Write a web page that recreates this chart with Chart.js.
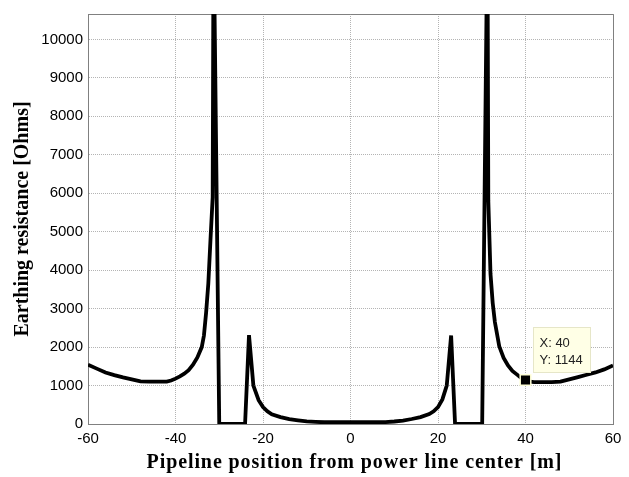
<!DOCTYPE html>
<html>
<head>
<meta charset="utf-8">
<script src="https://cdn.jsdelivr.net/npm/chart.js@4.4.1/dist/chart.umd.min.js"></script>
<style>
  body { margin: 0; background: #fff; }
  #wrap { width: 629px; height: 477px; position: relative; }
</style>
</head>
<body>
<div id="wrap"><canvas id="resChart"></canvas></div>
<script>
// pipeline position [m] and earthing resistance [Ohms]
const positionM = [
  -60, -58, -56, -54, -52, -50, -48, -46, -44, -42, -41, -40, -39, -38, -37, -36, -35, -34,
  -33.5, -33, -32.5, -32, -31.5, -31.3, -30, -24.1, -23.2, -22.2, -21, -20, -19, -18, -16,
  -14, -12, -10, -8, -6, -4, -2, 0, 2, 4, 6, 8, 10, 12, 14, 16, 18, 19, 20, 21, 22, 23,
  23.9, 30.1, 31.3, 31.5, 32, 32.5, 33, 34, 35, 36, 37, 38, 39, 40, 41, 42, 44, 46, 48,
  50, 52, 54, 56, 58, 60
];
const resistanceOhm = [
  1540, 1440, 1340, 1270, 1210, 1160, 1110, 1100, 1100, 1100, 1130, 1180, 1240, 1310, 1400, 1540, 1730, 2000,
  2300, 2900, 3650, 4800, 5900, 13000, 0, 0, 2310, 1000, 620, 440, 330, 250, 180,
  125, 95, 70, 55, 45, 45, 45, 45, 45, 45, 45, 50, 65, 90, 130, 180, 260, 330, 440, 640, 1000, 2300,
  0, 0, 13000, 5800, 3900, 3150, 2650, 2020, 1720, 1520, 1380, 1290, 1200, 1144, 1100, 1090, 1090, 1090, 1100,
  1160, 1220, 1280, 1340, 1420, 1520
];

// data tip
const tipX = [40];
const tipY = [1144];

const xTicks = [-60, -40, -20, 0, 20, 40, 60];
const yTicks = [0, 1000, 2000, 3000, 4000, 5000, 6000, 7000, 8000, 9000, 10000];

const xTitle = 'Pipeline position from power line center [m]';
const yTitle = 'Earthing resistance [Ohms]';

const lineData = positionM.map((x, i) => ({ x: x, y: resistanceOhm[i] }));
const tipData = tipX.map((x, i) => ({ x: x, y: tipY[i] }));

const tickFont = { family: '"Liberation Sans", Arial, sans-serif', size: 15 };
const titleFont = { family: '"Liberation Serif", "Times New Roman", serif', size: 20, weight: 'bold' };

const framePlugin = {
  id: 'frame',
  beforeDatasetsDraw(chart) {
    const { ctx, chartArea: a } = chart;
    ctx.save();
    ctx.strokeStyle = '#808080';
    ctx.lineWidth = 1;
    ctx.beginPath();
    ctx.moveTo(a.left, a.top + 0.5);
    ctx.lineTo(a.right + 0.5, a.top + 0.5);
    ctx.lineTo(a.right + 0.5, a.bottom);
    ctx.stroke();
    ctx.restore();
  },
  afterDraw(chart) {
    // x title is a little letter-spaced in the original
    const { ctx, chartArea: a } = chart;
    ctx.save();
    ctx.font = 'bold 20px "Liberation Serif", "Times New Roman", serif';
    ctx.letterSpacing = '0.9px';
    ctx.fillStyle = '#000';
    ctx.textAlign = 'center';
    ctx.textBaseline = 'alphabetic';
    ctx.fillText(xTitle, (a.left + a.right) / 2 + 4, 468);
    ctx.restore();
  }
};

const tipPlugin = {
  id: 'dataTip',
  afterDatasetsDraw(chart) {
    const { ctx, scales } = chart;
    ctx.save();
    tipX.forEach((x, i) => {
      const px = scales.x.getPixelForValue(x);
      const py = scales.y.getPixelForValue(tipY[i]);
      const bx = Math.round(px + 7) + 0.5;
      const by = Math.round(py - 53) + 0.5;
      ctx.fillStyle = '#ffffe6';
      ctx.strokeStyle = '#e6e6c8';
      ctx.lineWidth = 1;
      ctx.fillRect(bx, by, 57, 45);
      ctx.strokeRect(bx, by, 57, 45);
      ctx.fillStyle = '#222';
      ctx.font = '13px "Liberation Sans", Arial, sans-serif';
      ctx.textBaseline = 'alphabetic';
      ctx.fillText('X: ' + x, bx + 6, by + 19);
      ctx.fillText('Y: ' + tipY[i], bx + 6, by + 36);
    });
    ctx.restore();
  }
};

const chart = new Chart(document.getElementById('resChart'), {
  type: 'scatter',
  data: {
    datasets: [{
      data: lineData,
      showLine: true,
      borderColor: '#000',
      borderWidth: 3.8,
      pointRadius: 0,
      tension: 0,
      clip: 0,
      order: 2
    }, {
      data: tipData,
      showLine: false,
      pointStyle: 'rect',
      pointRadius: 7.5,
      backgroundColor: '#000',
      borderColor: '#ffffd8',
      borderWidth: 1.5,
      order: 1
    }]
  },
  plugins: [framePlugin, tipPlugin],
  options: {
    responsive: true,
    maintainAspectRatio: false,
    animation: false,
    events: [],
    layout: { padding: { left: 0, right: 16, top: 9, bottom: 0 } },
    plugins: {
      legend: { display: false },
      tooltip: { enabled: false }
    },
    scales: {
      x: {
        type: 'linear',
        min: -60,
        max: 60,
        afterBuildTicks: s => { s.ticks = xTicks.map(v => ({ value: v })); },
        afterFit: s => { s.height = 53; },
        grid: { color: '#b4b4b4', drawTicks: false },
        border: { color: '#808080', dash: [1, 1] },
        ticks: {
          color: '#000',
          padding: 6,
          maxRotation: 0,
          font: tickFont,
          callback: v => String(v)
        },
        title: { display: false }
      },
      y: {
        type: 'linear',
        min: 0,
        max: 10660,
        afterBuildTicks: s => { s.ticks = yTicks.map(v => ({ value: v })); },
        afterFit: s => { s.width = 88; },
        grid: { color: '#b4b4b4', drawTicks: false },
        border: { color: '#808080', dash: [1, 1] },
        ticks: {
          color: '#000',
          padding: 5,
          font: tickFont,
          callback: v => String(v)
        },
        title: {
          display: true,
          text: yTitle,
          color: '#000',
          padding: { top: 11, bottom: 0 },
          font: titleFont
        }
      }
    }
  }
});
</script>
</body>
</html>
